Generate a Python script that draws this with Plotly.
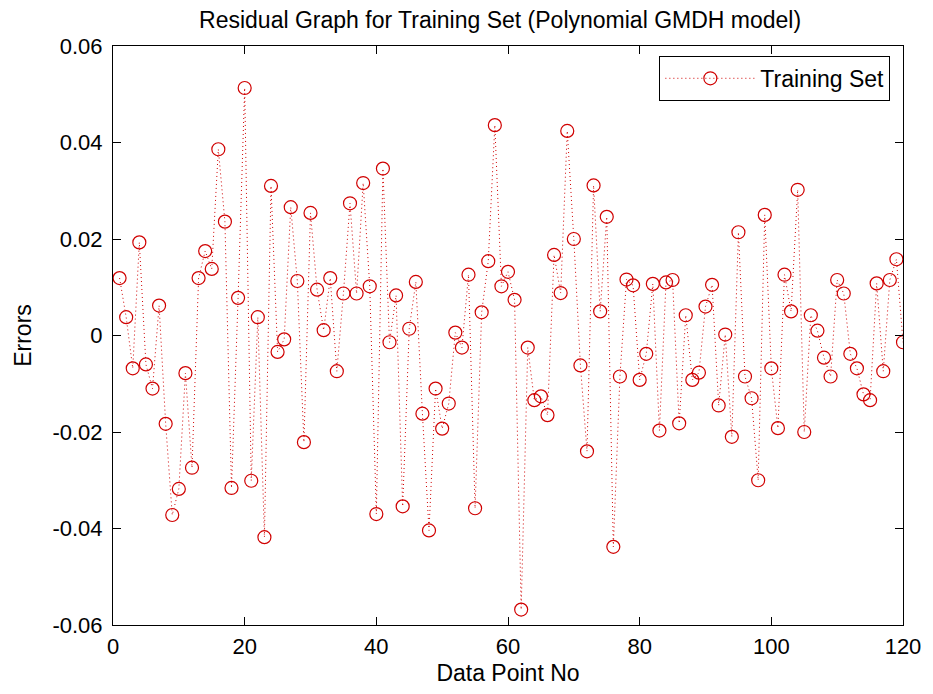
import plotly.graph_objects as go

# ---- data ----
data_point_no = list(range(1, 121))
errors = [
    0.0119, 0.0038, -0.0068, 0.0193, -0.0060, -0.0110, 0.0062, -0.0183, -0.0372, -0.0318,
    -0.0078, -0.0274, 0.0119, 0.0175, 0.0138, 0.0386, 0.0236, -0.0316, 0.0078, 0.0513,
    -0.0301, 0.0038, -0.0418, 0.0310, -0.0034, -0.0008, 0.0266, 0.0113, -0.0221, 0.0254,
    0.0095, 0.0011, 0.0119, -0.0074, 0.0087, 0.0274, 0.0087, 0.0316, 0.0102, -0.0370,
    0.0346, -0.0014, 0.0083, -0.0354, 0.0014, 0.0111, -0.0162, -0.0404, -0.0110, -0.0193,
    -0.0141, 0.0006, -0.0025, 0.0126, -0.0358, 0.0048, 0.0154, 0.0436, 0.0102, 0.0132,
    0.0074, -0.0568, -0.0025, -0.0134, -0.0126, -0.0165, 0.0167, 0.0088, 0.0424, 0.0200,
    -0.0062, -0.0240, 0.0311, 0.0050, 0.0246, -0.0438, -0.0085, 0.0116, 0.0104, -0.0092,
    -0.0038, 0.0107, -0.0197, 0.0110, 0.0115, -0.0182, 0.0042, -0.0092, -0.0077, 0.0060,
    0.0105, -0.0145, 0.0002, -0.0210, 0.0214, -0.0085, -0.0130, -0.0300, 0.0250, -0.0068,
    -0.0192, 0.0126, 0.0050, 0.0302, -0.0200, 0.0042, 0.0010, -0.0046, -0.0085, 0.0115,
    0.0087, -0.0038, -0.0068, -0.0122, -0.0134, 0.0108, -0.0074, 0.0115, 0.0158, -0.0014,
]
x_tick_vals = [0, 20, 40, 60, 80, 100, 120]
x_tick_text = ["0", "20", "40", "60", "80", "100", "120"]
y_tick_vals = [0.06, 0.04, 0.02, 0, -0.02, -0.04, -0.06]
y_tick_text = ["0.06", "0.04", "0.02", "0", "-0.02", "-0.04", "-0.06"]

RED = "#d00000"
FONT = "Liberation Sans, Arial, sans-serif"
FS = 23

fig = go.Figure()
fig.add_trace(go.Scatter(
    x=data_point_no, y=errors, mode="lines+markers", name="Training Set",
    line=dict(color=RED, width=1, dash="1px,3px"),
    marker=dict(symbol="circle-open", size=13, color=RED, line=dict(width=1.2, color=RED)),
))

axis_common = dict(
    showline=True, linecolor="black", linewidth=1, mirror="ticks",
    ticks="inside", ticklen=8, tickcolor="black", tickwidth=1,
    showgrid=False, zeroline=False,
    tickfont=dict(family=FONT, size=FS - 1, color="black"),
)

fig.update_layout(
    width=933, height=694,
    margin=dict(l=113, r=22, t=46, b=66),
    paper_bgcolor="white", plot_bgcolor="white",
    font=dict(family=FONT, size=FS, color="black"),
    title=dict(text="Residual Graph for Training Set (Polynomial GMDH model)",
               x=0.49, xref="paper", xanchor="center",
               y=1 - 20 / 694, yref="container", yanchor="middle",
               font=dict(family=FONT, size=FS, color="black")),
    xaxis=dict(range=[0, 120], tickvals=x_tick_vals, ticktext=x_tick_text,
               title=dict(text="Data Point No", standoff=6,
                          font=dict(family=FONT, size=FS, color="black")),
               ticklabelstandoff=2, **axis_common),
    yaxis=dict(range=[-0.06, 0.06], tickvals=y_tick_vals, ticktext=y_tick_text,
               title=dict(text="Errors", standoff=14,
                          font=dict(family=FONT, size=FS, color="black")),
               ticklabelstandoff=5, **axis_common),
    legend=dict(x=0.984, y=0.983, xanchor="right", yanchor="top",
                bgcolor="white", bordercolor="black", borderwidth=1,
                font=dict(family=FONT, size=FS, color="black"),
                itemwidth=90, tracegroupgap=0),
    showlegend=True,
)

fig.write_html("out.html")
